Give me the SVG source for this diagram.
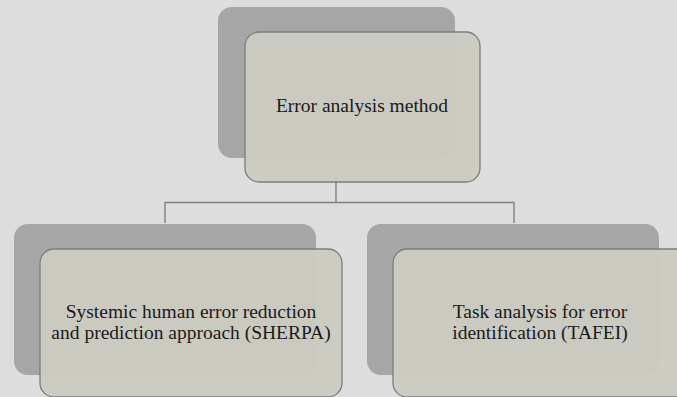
<svg xmlns="http://www.w3.org/2000/svg" width="677" height="397" viewBox="0 0 677 397">
  <style>
    .back { fill: #a6a6a6; }
    .front { fill: #cbcbc2; fill-opacity: 0.96; stroke: #7c7c7c; stroke-width: 1.3; }
    .link { fill: none; stroke: #808080; stroke-width: 1.4; }
    .label { font-size: 19.5px; fill: #1a1a1a; text-anchor: middle; }
  </style>
  <rect width="677" height="397" fill="#dddddd"/>

  <!-- connectors drawn first so the translucent cards sit over them -->
  <g id="connectors">
    <path class="link" d="M336,158 V202.5 M165,223 V202.5 H514 V223"/>
  </g>

  <g id="node-root">
    <rect class="back" x="218" y="7" width="237" height="151" rx="14"/>
    <rect class="front" x="245" y="32" width="235" height="150" rx="14"/>
    <text class="label" font-family="'Liberation Serif', 'Times New Roman', serif" x="362" y="112">Error analysis method</text>
  </g>

  <g id="node-sherpa">
    <rect class="back" x="14" y="224" width="302" height="151" rx="14"/>
    <rect class="front" x="40" y="249" width="302" height="148" rx="14"/>
    <text class="label" font-family="'Liberation Serif', 'Times New Roman', serif" x="191" y="318">Systemic human error reduction</text>
    <text class="label" font-family="'Liberation Serif', 'Times New Roman', serif" x="191" y="339">and prediction approach (SHERPA)</text>
  </g>

  <g id="node-tafei">
    <rect class="back" x="367" y="224" width="292" height="151" rx="14"/>
    <rect class="front" x="393" y="249" width="300" height="148" rx="14"/>
    <text class="label" font-family="'Liberation Serif', 'Times New Roman', serif" x="540" y="318">Task analysis for error</text>
    <text class="label" font-family="'Liberation Serif', 'Times New Roman', serif" x="540" y="339">identification (TAFEI)</text>
  </g>
</svg>
